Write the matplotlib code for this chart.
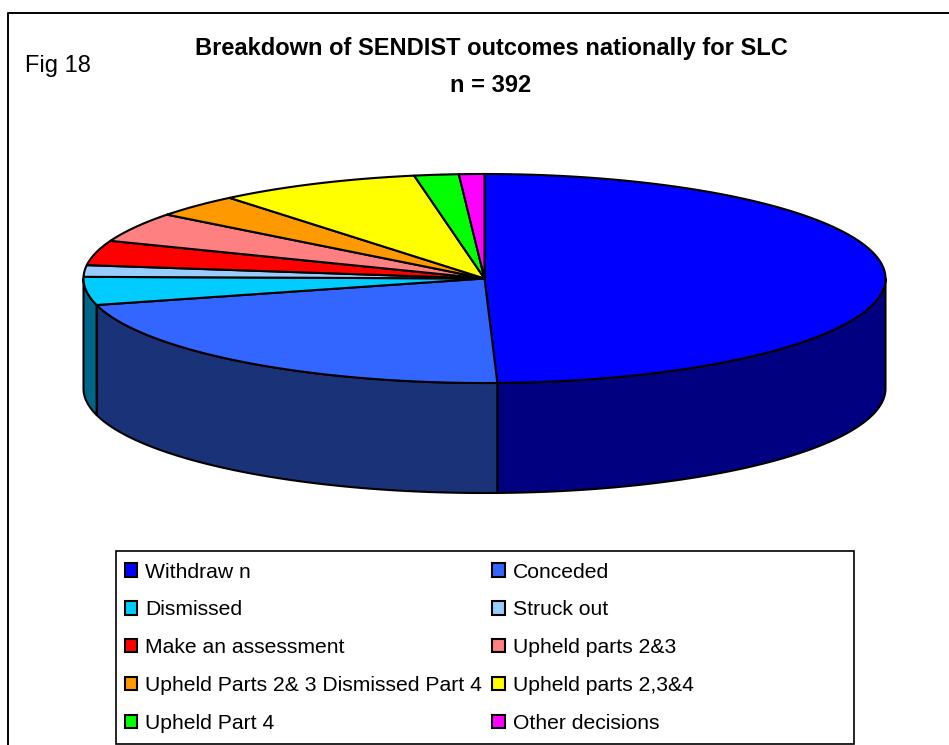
import matplotlib
matplotlib.use("Agg")
import matplotlib.pyplot as plt
from matplotlib.patches import Patch, Rectangle
import numpy as np

plt.rcParams['font.family'] = ['Liberation Sans', 'DejaVu Sans']

# Data
labels = [
    "Withdraw n", "Dismissed", "Make an assessment",
    "Upheld Parts 2& 3 Dismissed Part 4", "Upheld Part 4",
    "Conceded", "Struck out", "Upheld parts 2&3",
    "Upheld parts 2,3&4", "Other decisions",
]
outcomes = [
    "Withdraw n", "Conceded", "Dismissed", "Struck out", "Make an assessment",
    "Upheld parts 2&3", "Upheld Parts 2& 3 Dismissed Part 4",
    "Upheld parts 2,3&4", "Upheld Part 4", "Other decisions",
]
counts = [194, 84, 17, 7, 15, 18, 14, 32, 7, 4]
colors = ["#0000FF", "#3366FF", "#00CCFF", "#99CCFF", "#FF0000",
          "#FF8080", "#FF9900", "#FFFF00", "#00FF00", "#FF00FF"]
side_colors = ["#000080", "#1A3278", "#006688", "#4D6680", "#800000",
               "#804040", "#804D00", "#808000", "#008000", "#800080"]

# pie geometry in pixels
cx, cy = 484.5, 278.5
rx, ry = 401, 104.5
depth = 110

fig = plt.figure(figsize=(9.49, 7.45), dpi=100)
ax = fig.add_axes([0, 0, 1, 1])
ax.set_xlim(0, 949)
ax.set_ylim(745, 0)
ax.axis("off")

# outer chart border, open on the right and bottom
ax.plot([8, 8, 949], [745, 13, 13], color="black", lw=1.4)

# angles run clockwise from the top
edges = np.concatenate([[0], np.cumsum(counts)]) / sum(counts) * 2 * np.pi


def rim(t):
    return cx + rx * np.sin(t), cy - ry * np.cos(t)


# side wall, only the front half shows
for i in range(len(counts)):
    a = max(edges[i], np.pi / 2)
    b = min(edges[i + 1], 3 * np.pi / 2)
    if b <= a:
        continue
    t = np.linspace(a, b, 200)
    x, y = rim(t)
    ax.fill(np.r_[x, x[::-1]], np.r_[y, y[::-1] + depth],
            facecolor=side_colors[i], edgecolor="black", lw=1.5, joinstyle="round")

# top slices
for i in range(len(counts)):
    t = np.linspace(edges[i], edges[i + 1], 200)
    x, y = rim(t)
    ax.fill(np.r_[cx, x], np.r_[cy, y],
            facecolor=colors[i], edgecolor="black", lw=1.5, joinstyle="round")

# title and figure label
ax.text(491, 48, "Breakdown of SENDIST outcomes nationally for SLC",
        ha="center", va="center", fontsize=17, fontweight="bold")
ax.text(491, 85, "n = 392", ha="center", va="center", fontsize=17, fontweight="bold")
ax.text(25, 66, "Fig 18", ha="left", va="center", fontsize=17)

# legend box is wider than the entries, so it is drawn apart from them
ax.add_patch(Rectangle((116, 551), 738, 193, facecolor="white", edgecolor="black", lw=1.2))

# legend, filled column by column
order = [outcomes.index(name) for name in labels]
handles = [Patch(facecolor=colors[i], edgecolor="black", lw=1.5, label=outcomes[i]) for i in order]
ax.legend(handles=handles, ncol=2, loc="upper left",
          bbox_to_anchor=(113, 551), bbox_transform=ax.transData,
          fontsize=15.2, frameon=False,
          handlelength=0.6, handleheight=0.6, handletextpad=0.38,
          labelspacing=0.89, columnspacing=0.47, borderpad=0.55, borderaxespad=0)

fig.savefig("out.png", dpi=100)
